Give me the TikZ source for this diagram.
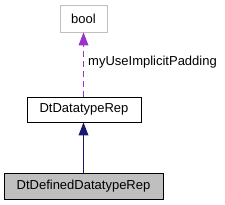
\documentclass[tikz,border=0pt]{standalone}
\usepackage{fontspec}
\setmainfont{Liberation Sans}
\usepackage{tikz}
\usetikzlibrary{arrows.meta}
\definecolor{EdgeGray}{HTML}{BFBFBF}
\definecolor{FillGray}{HTML}{BFBFBF}
\definecolor{Purple}{HTML}{9A32CD}
\definecolor{Navy}{HTML}{191970}

\begin{document}
\begin{tikzpicture}[
  x=1pt, y=-1pt,
  cls/.style={draw=black, thick, fill=white, inner sep=0pt, font=\fontsize{13}{15}\selectfont},
  ext/.style={cls, draw=EdgeGray},
  cur/.style={cls, fill=FillGray},
  member/.style={draw=Purple, line width=1.8pt, dash pattern=on 6pt off 4pt, shorten >=12pt},
  inherit/.style={draw=Navy, line width=1.4pt, shorten >=12pt},
  lbl/.style={text=black, font=\fontsize{13}{15}\selectfont, inner sep=3pt}
]
\useasboundingbox (0,0) rectangle (225,205);
\node[ext, minimum width=47pt, minimum height=27pt] (bool) at (83.5,18.5) {bool};
\node[cls, minimum width=114pt, minimum height=25pt] (rep) at (84,109.5) {DtDatatypeRep};
\node[cur, minimum width=159pt, minimum height=26pt] (defrep) at (83.5,186) {DtDefinedDatatypeRep};
% member edge
\draw[member] (rep.north -| bool) -- (bool.south);
\fill[Purple] (bool.south) -- ++(-5,13) -- ++(10,0) -- cycle;
\node[lbl, anchor=west] (padlbl) at (85,62) {myUseImplicitPadding};
% inheritance edge
\draw[inherit] (defrep.north -| bool) -- (rep.south -| bool);
\fill[Navy] (rep.south -| bool) -- ++(-5,13) -- ++(10,0) -- cycle;
\end{tikzpicture}
\end{document}
